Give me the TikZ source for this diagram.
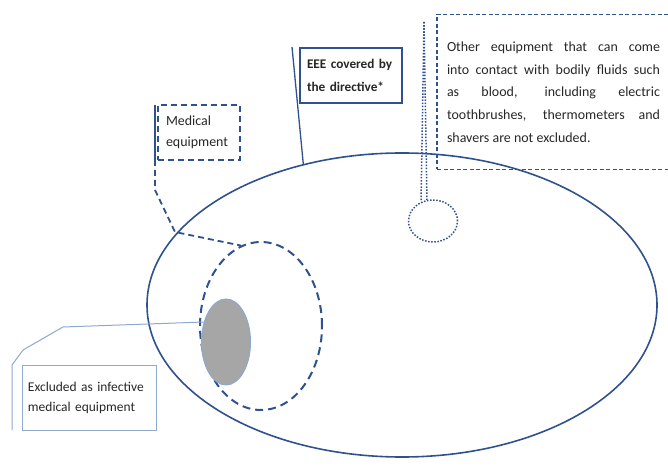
\documentclass[tikz,border=0pt]{standalone}
\usepackage{fontspec}
\setmainfont{Carlito}
\usetikzlibrary{shapes}
\definecolor{outline}{RGB}{47,82,143}
\definecolor{callout}{RGB}{143,168,205}
\definecolor{greyfill}{RGB}{166,166,166}
\definecolor{inktext}{RGB}{38,38,38}
\tikzset{
  area/.style={ellipse, draw=outline, inner sep=0pt},
  textbox/.style={rectangle, draw=outline, align=left, inner ysep=0pt, text=inktext},
  dashbox/.style={textbox, line width=1.8bp, dash pattern=on 6bp off 4bp},
  dotline/.style={draw=outline, line width=1.5bp, dash pattern=on 1.5bp off 1.6bp}
}
\begin{document}
\begin{tikzpicture}[x={(1bp,0)}, y={(0,-1bp)}]
        \useasboundingbox (0,0) rectangle (668,466);
        % areas
        \node[area, line width=1.6bp, minimum width=510bp, minimum height=304bp] (eee) at (402,305) {};
        \node[area, line width=2bp, dash pattern=on 8bp off 5bp, minimum width=122bp, minimum height=168bp] (med) at (261,326) {};
        \node[area, draw=callout, line width=1bp, fill=greyfill, minimum width=49bp, minimum height=86bp] (inf) at (226,342) {};
        \node[area, dotline, minimum width=49bp, minimum height=42bp] (other) at (433,221) {};
        % boxes
        \node[textbox, line width=2bp, minimum width=102bp, minimum height=55bp, text width=88bp,
              font=\bfseries\fontsize{13.3}{23}\selectfont] (eeebox) at (351,75.5) {EEE covered by\\the directive*};
        \node[dashbox, minimum width=82bp, minimum height=55bp, text width=66bp,
              font=\fontsize{14}{21}\selectfont] (medbox) at (199,132.5) {Medical\\equipment};
        \node[textbox, draw=callout, line width=1bp, minimum width=133bp, minimum height=65bp, text width=123bp,
              font=\fontsize{13.5}{20}\selectfont] (infbox) at (89.5,397.5) {Excluded as infective\\medical equipment};
        \node[textbox, line width=1.7bp, dash pattern=on 4bp off 2.5bp, minimum width=233bp, minimum height=155bp,
              text width=213bp, align=justify, font=\fontsize{14}{22.7}\selectfont] (otherbox) at (553.5,92)
              {Other equipment that can come\linebreak into contact with bodily fluids such\linebreak as blood, including electric\linebreak toothbrushes, thermometers and\linebreak shavers are not excluded.};
        % callouts
        \coordinate (eeetail) at (292,47);
        \coordinate (medtail) at (155,105);
        \coordinate (inftail) at (12,430);
        \coordinate (othertail) at (424,22);
        \draw[outline, line width=1.3bp] (eeetail) -- (eee.125);
        \draw[outline, line width=1.3bp] (medtail) -- ++(0,55) coordinate (medbend);
        \draw[outline, line width=1.8bp, dash pattern=on 6bp off 4bp] (medbend) -- (155,190) -- (175,232) -- (med.104);
        \draw[callout, line width=1bp] (inf.138) -- (63,327) -- (23,350) -- (12,365) -- (inftail);
        \draw[dotline] (othertail) -- (other.122);
        \draw[dotline] (othertail) -- (other.106);
\end{tikzpicture}
\end{document}
